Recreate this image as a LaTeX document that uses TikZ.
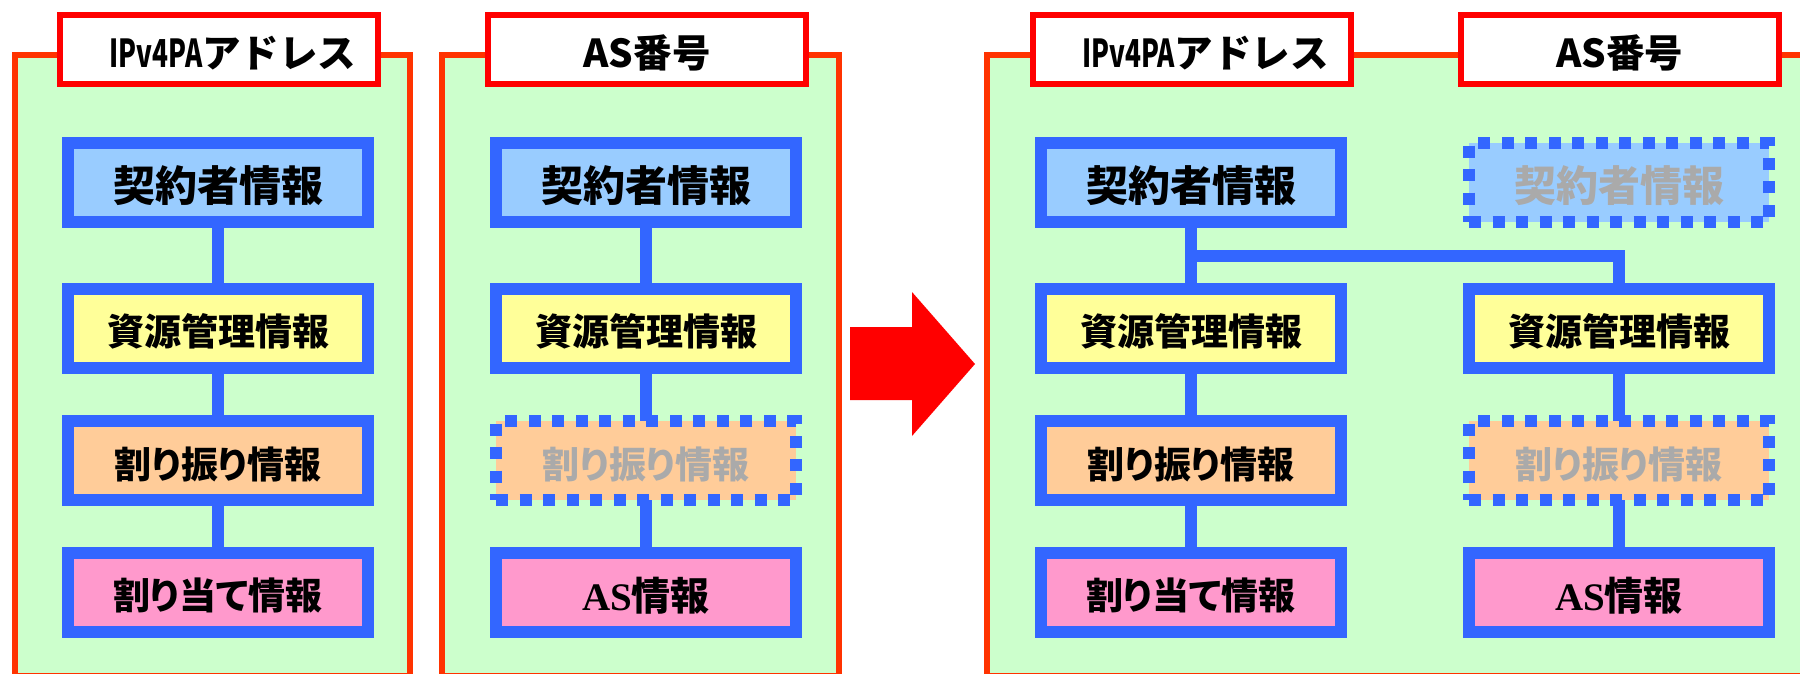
\documentclass[tikz,border=0pt]{standalone}
\usepackage{fontspec}
\newfontfamily\jp{Noto Sans CJK JP}
\newfontfamily\jpp{Noto Sans CJK JP}[RawFeature=+palt]
\newfontfamily\sr{Liberation Serif}
\definecolor{frameC}{HTML}{FF3300}
\definecolor{panelC}{HTML}{CCFFCC}
\definecolor{ttlC}{HTML}{FF0000}
\definecolor{blueC}{HTML}{3366FF}
\definecolor{kC}{HTML}{99CCFF}
\definecolor{sC}{HTML}{FFFF99}
\definecolor{wC}{HTML}{FFCC99}
\definecolor{aC}{HTML}{FF99CC}
\definecolor{grayC}{HTML}{AAAAAA}
\definecolor{arrC}{HTML}{FF0000}
\newcommand{\dn}[1]{\raisebox{-3.5pt}[\height][\depth]{#1}}
\newcommand{\ipvfour}{\scalebox{0.68}[1]{IPv4PA}アドレス}
\tikzset{
  frame/.style={draw=frameC, line width=6pt, fill=panelC},
  ttl/.style={draw=ttlC, line width=6pt, fill=white, minimum width=318pt, minimum height=69pt, inner sep=0pt, font=\jp\bfseries\fontsize{38.5}{38.5}\selectfont},
  ibox/.style={draw=blueC, line width=12pt, minimum width=300pt, minimum height=79pt, inner sep=0pt, font=\jpp\bfseries\fontsize{37}{37}\selectfont},
  kbox/.style={ibox, fill=kC, font=\jpp\bfseries\fontsize{42}{42}\selectfont},
  sbox/.style={ibox, fill=sC},
  wbox/.style={ibox, fill=wC},
  abox/.style={ibox, fill=aC},
  asbox/.style={abox, font=\jpp\bfseries\fontsize{39}{39}\selectfont},
  dotted box/.style={dash pattern=on 12pt off 11.5pt, text=grayC},
  conn/.style={draw=blueC, line width=12pt, line join=miter},
}
\begin{document}
\begin{tikzpicture}[x=1pt,y=-1pt]
\useasboundingbox (0,0) rectangle (1800,673);
\clip (0,0) rectangle (1800,673);
% panels
\draw[frame] (15,55) rectangle (410,676);
\draw[frame] (442,55) rectangle (839,676);
\draw[frame] (987,55) rectangle (1815,676);
% titles
\node[ttl] (t1) at (219,49.5) {\dn{\hspace*{28pt}\ipvfour}};
\node[ttl] (t2) at (647,49.5) {\dn{AS番号}};
\node[ttl] (t3) at (1191.5,49.5) {\dn{\hspace*{28pt}\ipvfour}};
\node[ttl] (t4) at (1619.5,49.5) {\dn{AS番号}};
% arrow
\fill[arrC] (850,327) -- (912,327) -- (912,292) -- (975,364) -- (912,436) -- (912,400) -- (850,400) -- cycle;
% coordinates
\coordinate (pk1) at (218,182.5);  \coordinate (ps1) at (218,328);
\coordinate (pw1) at (218,460.5);  \coordinate (pa1) at (218,592);
\coordinate (pk2) at (646,182.5);  \coordinate (ps2) at (646,328);
\coordinate (pw2) at (646,460.5);  \coordinate (pa2) at (646,592);
\coordinate (pk3) at (1191,182.5); \coordinate (ps3) at (1191,328);
\coordinate (pw3) at (1191,460.5); \coordinate (pa3) at (1191,592);
\coordinate (pk4) at (1619,182.5); \coordinate (ps4) at (1619,328);
\coordinate (pw4) at (1619,460.5); \coordinate (pa4) at (1619,592);
\coordinate (j) at (1191,255.5);
% connectors
\draw[conn] (pk1) -- (pa1);
\draw[conn] (pk2) -- (pa2);
\draw[conn] (pk3) -- (pa3);
\draw[conn] (j) -| (ps4);
\draw[conn] (ps4) -- (pa4);
% panel 1
\node[kbox] (k1) at (pk1) {\dn{契約者情報}};
\node[sbox] (s1) at (ps1) {\dn{資源管理情報}};
\node[wbox] (w1) at (pw1) {\dn{割り振り情報}};
\node[abox] (a1) at (pa1) {\dn{割り当て情報}};
% panel 2
\node[kbox] (k2) at (pk2) {\dn{契約者情報}};
\node[sbox] (s2) at (ps2) {\dn{資源管理情報}};
\node[wbox, dotted box] (w2) at (pw2) {\dn{割り振り情報}};
\node[asbox] (a2) at (pa2) {\dn{{\sr\bfseries AS}情報}};
% panel 3
\node[kbox] (k3) at (pk3) {\dn{契約者情報}};
\node[sbox] (s3) at (ps3) {\dn{資源管理情報}};
\node[wbox] (w3) at (pw3) {\dn{割り振り情報}};
\node[abox] (a3) at (pa3) {\dn{割り当て情報}};
\node[kbox, dotted box] (k4) at (pk4) {\dn{契約者情報}};
\node[sbox] (s4) at (ps4) {\dn{資源管理情報}};
\node[wbox, dotted box] (w4) at (pw4) {\dn{割り振り情報}};
\node[asbox] (a4) at (pa4) {\dn{{\sr\bfseries AS}情報}};
\end{tikzpicture}
\end{document}
